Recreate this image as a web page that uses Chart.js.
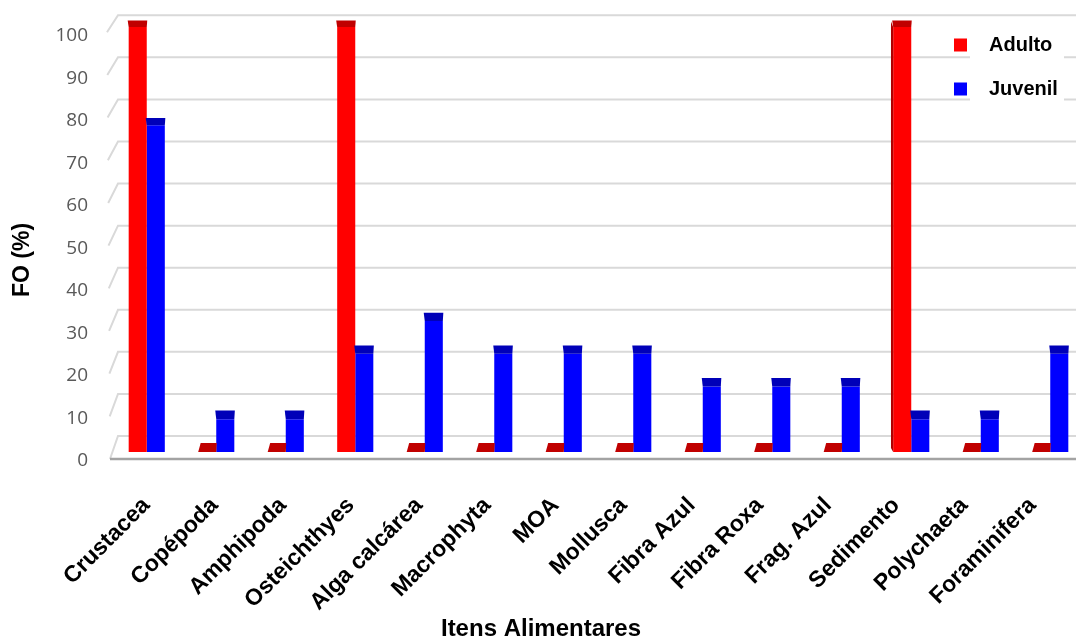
<!DOCTYPE html>
<html>
<head>
<meta charset="utf-8">
<script src="https://cdn.jsdelivr.net/npm/chart.js@4.4.1/dist/chart.umd.min.js"></script>
<style>
  html, body { margin: 0; padding: 0; background: #ffffff; overflow: hidden; }
  #wrap { position: relative; width: 1090px; height: 639px; }
</style>
</head>
<body>
<div id="wrap"><canvas id="chart"></canvas></div>
<script>
// Food items (FO %) for adult and juvenile fish
const categories = ['Crustacea', 'Copépoda', 'Amphipoda', 'Osteichthyes', 'Alga calcárea', 'Macrophyta',
                    'MOA', 'Mollusca', 'Fibra Azul', 'Fibra Roxa', 'Frag. Azul', 'Sedimento', 'Polychaeta', 'Foraminifera'];
const adulto  = [100, 0, 0, 100, 0, 0, 0, 0, 0, 0, 0, 100, 0, 0];
const juvenil = [76.9, 7.7, 7.7, 23.1, 30.8, 23.1, 23.1, 23.1, 15.4, 15.4, 15.4, 7.7, 7.7, 23.1];
const seriesNames = ['Adulto', 'Juvenil'];
const yTickValues = [0, 10, 20, 30, 40, 50, 60, 70, 80, 90, 100];
const yTitle = 'FO (%)';
const xTitle = 'Itens Alimentares';

const FRONT = ['#ff0000', '#0000ff'];
const TOP   = ['#c00000', '#0000b8'];
const SIDE  = ['#b00000', '#0000a0'];

// range of the item-name axis (names sit slightly closer together than the bars)
const ITEM_MIN = -0.505, ITEM_MAX = 13.770;

// Back wall gridlines, side-wall slants and the front floor edge
const wallPlugin = {
  id: 'wall',
  beforeDatasetsDraw(chart) {
    const ctx = chart.ctx;
    const y = chart.scales.y;
    const area = chart.chartArea;
    const base0 = y.getPixelForValue(0);
    ctx.save();
    ctx.strokeStyle = '#d9d9d9';
    ctx.lineWidth = 2;
    yTickValues.forEach(v => {
      const yf = y.getPixelForValue(v);
      const yb = (base0 - 16) - (base0 - yf) * 0.99;
      const slant = 23 - 0.06 * v;
      const xs = area.left - 2 - 0.03 * v;
      const xe = area.left + 6;
      ctx.beginPath();
      ctx.moveTo(xs, yb + slant);
      ctx.lineTo(xe, yb);
      ctx.lineTo(chart.width, yb);
      ctx.stroke();
    });
    // floor front edge
    ctx.strokeStyle = '#a3a3a3';
    ctx.lineWidth = 2.5;
    ctx.beginPath();
    ctx.moveTo(area.left - 2, base0 + 7);
    ctx.lineTo(chart.width, base0 + 7);
    ctx.stroke();
    ctx.restore();
  },
  afterDatasetsDraw(chart) {
    const ctx = chart.ctx;
    const area = chart.chartArea;
    const midX = (area.left + area.right) / 2;
    ctx.save();
    chart.data.datasets.forEach((ds, di) => {
      const meta = chart.getDatasetMeta(di);
      meta.data.forEach((bar, i) => {
        const p = bar.getProps(['x', 'y', 'base', 'width'], true);
        const x0 = p.x - p.width / 2, x1 = p.x + p.width / 2;
        const t = (p.base - p.y) / (p.base - area.top);
        const dy = 9 - 2.4 * t;
        // left side face of red bars standing right of centre
        if (di === 0 && ds.data[i] > 0 && p.x > midX + 100) {
          ctx.fillStyle = SIDE[di];
          ctx.beginPath();
          ctx.moveTo(x0, p.y);
          ctx.lineTo(x0 - 2.2, p.y - dy + 1);
          ctx.lineTo(x0 - 2.2, p.base - 4);
          ctx.lineTo(x0, p.base);
          ctx.closePath();
          ctx.fill();
        }
        // top face
        ctx.fillStyle = TOP[di];
        ctx.beginPath();
        ctx.moveTo(x0, p.y);
        ctx.lineTo(x1, p.y);
        ctx.lineTo(x1 + 0.5, p.y - dy);
        ctx.lineTo(x0 + (ds.data[i] > 0 ? -1 : 2.5), p.y - dy);
        ctx.closePath();
        ctx.fill();
      });
    });
    ctx.restore();
  },
  afterDraw(chart) {
    const ctx = chart.ctx;
    ctx.save();
    // legend
    ctx.fillStyle = '#ffffff';
    ctx.fillRect(970, 22, 94, 84);
    ctx.font = 'bold 20px "Liberation Sans", Arial, sans-serif';
    ctx.textBaseline = 'middle';
    ctx.textAlign = 'left';
    chart.data.datasets.forEach((ds, di) => {
      const cy = 45 + di * 44;
      ctx.fillStyle = ds.backgroundColor;
      ctx.fillRect(954, cy - 6.5, 13, 13);
      ctx.fillStyle = '#000000';
      ctx.fillText(ds.label, 989, cy);
    });
    // axis titles
    ctx.font = 'bold 24px "Liberation Sans", Arial, sans-serif';
    ctx.textAlign = 'center';
    ctx.fillText(xTitle, 541, 629);
    ctx.save();
    ctx.translate(23, 260);
    ctx.rotate(-Math.PI / 2);
    ctx.font = 'bold 23px "Liberation Sans", Arial, sans-serif';
    ctx.fillText(yTitle, 0, 0);
    ctx.restore();
    ctx.restore();
  }
};

new Chart(document.getElementById('chart'), {
  type: 'bar',
  data: {
    labels: categories,
    datasets: [
      { label: seriesNames[0], data: adulto,  backgroundColor: FRONT[0], borderWidth: 0,
        categoryPercentage: 0.52, barPercentage: 1.0 },
      { label: seriesNames[1], data: juvenil, backgroundColor: FRONT[1], borderWidth: 0,
        categoryPercentage: 0.52, barPercentage: 1.0 }
    ]
  },
  options: {
    responsive: true,
    maintainAspectRatio: false,
    animation: false,
    layout: { padding: { top: 27, left: 0, right: 5, bottom: 0 } },
    plugins: {
      legend: { display: false },
      tooltip: { enabled: false },
      title: { display: false }
    },
    scales: {
      // category axis that places the bars
      x: {
        display: false,
        grid: { display: false }
      },
      // item names, laid out in perspective along the floor edge
      itemAxis: {
        type: 'linear',
        axis: 'x',
        position: 'bottom',
        offset: false,
        bounds: 'data',
        min: ITEM_MIN,
        max: ITEM_MAX,
        grid: { display: false, drawTicks: false, offset: false },
        border: { display: false },
        ticks: {
          autoSkip: false,
          minRotation: 45,
          maxRotation: 45,
          padding: 40,
          color: '#000000',
          font: { family: '"Liberation Sans", Arial, sans-serif', size: 23, weight: 'bold' },
          callback: (v) => categories[v]
        },
        afterBuildTicks(scale) {
          scale.ticks = categories.map((c, i) => ({ value: i }));
          scale.min = ITEM_MIN;
          scale.max = ITEM_MAX;
        },
        afterFit(scale) { scale.height = 187; scale.paddingLeft = 0; scale.paddingRight = 0; }
      },
      y: {
        min: 0,
        max: 100,
        grid: { display: false, drawTicks: false },
        border: { display: false },
        ticks: {
          stepSize: 10,
          padding: 24,
          labelOffset: 9,
          color: '#595959',
          font: { family: '"Open Sans", sans-serif', size: 19 }
        },
        afterBuildTicks(scale) { scale.ticks = yTickValues.map(v => ({ value: v })); },
        afterFit(scale) { scale.width = 112; scale.paddingTop = 0; scale.paddingBottom = 0; }
      }
    }
  },
  plugins: [wallPlugin]
});
</script>
</body>
</html>
